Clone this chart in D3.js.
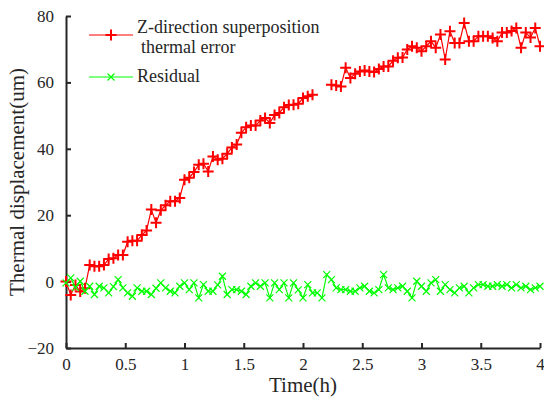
<!DOCTYPE html>
<html>
<head>
<meta charset="utf-8">
<script src="https://cdn.jsdelivr.net/npm/d3@7"></script>
<style>
  body { margin: 0; background: #fff; }
  svg { display: block; }
</style>
</head>
<body>
<svg id="chart"></svg>
<script>
// time axis (h)
const timeH = [0, 0.04, 0.08, 0.12, 0.16, 0.2, 0.24, 0.28, 0.32, 0.36, 0.4, 0.44, 0.48, 0.52, 0.56, 0.6, 0.64, 0.68, 0.72, 0.76,
  0.8, 0.84, 0.88, 0.92, 0.96, 1, 1.04, 1.08, 1.12, 1.16, 1.2, 1.24, 1.28, 1.32, 1.36, 1.4, 1.44, 1.48, 1.52, 1.56,
  1.6, 1.64, 1.68, 1.72, 1.76, 1.8, 1.84, 1.88, 1.92, 1.96, 2, 2.04, 2.08, 2.12, 2.16, 2.2, 2.24, 2.28, 2.32, 2.36,
  2.4, 2.44, 2.48, 2.52, 2.56, 2.6, 2.64, 2.68, 2.72, 2.76, 2.8, 2.84, 2.88, 2.92, 2.96, 3, 3.04, 3.08, 3.12, 3.16,
  3.2, 3.24, 3.28, 3.32, 3.36, 3.4, 3.44, 3.48, 3.52, 3.56, 3.6, 3.64, 3.68, 3.72, 3.76, 3.8, 3.84, 3.88, 3.92, 3.96, 4];

// Z-direction superposition thermal error (um), null = missing
const thermalError = [0, -4, -1, -3, -2, 5, 4.6, 4.6, 5, 6.8, 7,
  8, 8, 12, 12.3, 12.3, 14, 15.4, 21.7, 17.7, 21.5,
  23, 24.2, 24.2, 25.2, 30.7, 31.3, 33, 35.2, 35.5, 33.2,
  37.7, 36.7, 37, 38.5, 40.4, 41.3, 44.8, 46.5, 47, 47,
  48.5, 49.3, 47.8, 50.2, 50.8, 52.5, 53.2, 53.3, 53.6, 55.3,
  55.8, 56.3, null, null, null, 59.3, 59.1, 58.8, 64.4, 61.3,
  62.6, 63.3, 63.6, 63.3, 63.1, 64, 64.8, 64.8, 66.5, 67.4,
  67.5, 69.9, 70.9, 70.4, 69.4, 70.9, 72.4, 70.4, 74.4, 66.9,
  75.4, 71.9, 71.9, 77.9, 72.4, 72.4, 73.9, 73.9, 73.9, 73.4,
  72.4, 75, 75, 75.5, 76.4, 70.4, 75, 73.5, 76.4, 70.9];

// Residual (um)
const residual = [-0.4, 1.1, -1.8, 0.1, -2.9, -1.4, -3.9, -1.4, -1.9, -3.4,
  -1.5, 0.6, -1.9, -3.4, -4.4, -1.9, -2.9, -2.9, -3.9, -2.0,
  -0.4, -1.9, -2.9, -3.4, -1.4, -0.4, -2.4, -0.4, -4.9, -0.9,
  -2.9, -2.9, -1.0, 1.6, -3.9, -2.4, -2.4, -2.9, -3.9, -1.4,
  -0.4, -1.4, -0.4, -4.9, -0.4, -2.4, -0.4, -4.9, -0.4, -2.5,
  -4.9, -0.9, -3.4, -3.4, -4.9, 2.1, 0.6, -1.9, -2.4, -2.4,
  -2.9, -2.9, -1.9, -1.4, -2.9, -3.4, -2.4, 2.1, -1.9, -2.4,
  -1.9, -1.4, -2.9, -4.9, 0.1, -1.4, -2.9, -0.4, 0.6, -2.9,
  -0.9, -2.4, -3.4, -1.9, -1.4, -3.4, -1.9, -0.9, -0.9, -1.4,
  -1.4, -0.9, -1.4, -0.9, -1.9, -0.9, -1.9, -1.4, -2.4, -1.9,
  -1.4];

const xTicks = [0, 0.5, 1, 1.5, 2, 2.5, 3, 3.5, 4];
const yTicks = [-20, 0, 20, 40, 60, 80];
const seriesNames = ["Z-direction superposition", "thermal error", "Residual"];

const width = 544, height = 403;
const margin = { top: 16, right: 4, bottom: 55, left: 66 };
const innerW = width - margin.left - margin.right;
const innerH = height - margin.top - margin.bottom;
const axisColor = "#262626";
const serif = "'Liberation Serif', 'DejaVu Serif'";

const svg = d3.select("#chart").attr("width", width).attr("height", height);
const chart = svg.append("g").attr("transform", `translate(${margin.left},${margin.top})`);

const xScale = d3.scaleLinear().domain([0, 4]).range([0, innerW]);
const yScale = d3.scaleLinear().domain([-20, 80]).range([innerH, 0]);

// axes, ticks pointing inside
const xAxis = d3.axisBottom(xScale).tickValues(xTicks).tickSizeInner(-5).tickSizeOuter(0)
  .tickPadding(10).tickFormat(d3.format("~g"));
const yAxis = d3.axisLeft(yScale).tickValues(yTicks).tickSizeInner(-5).tickSizeOuter(0)
  .tickPadding(12).tickFormat(d3.format("~g"));

const xAxisG = chart.append("g").attr("transform", `translate(0,${innerH})`).call(xAxis);
const yAxisG = chart.append("g").call(yAxis);
[xAxisG, yAxisG].forEach(g => {
  g.attr("font-family", null).attr("font-size", null);
  g.select(".domain").attr("stroke", axisColor).attr("stroke-width", 2);
  g.selectAll(".tick line").attr("stroke", axisColor).attr("stroke-width", 2);
  g.selectAll(".tick text").attr("fill", axisColor)
    .style("font-family", serif).style("font-size", "17px");
});

// axis titles
svg.append("text")
  .attr("x", margin.left + innerW / 2).attr("y", 392)
  .attr("text-anchor", "middle").attr("fill", axisColor)
  .style("font-family", serif).style("font-size", "21px").text("Time(h)");
svg.append("text")
  .attr("transform", `translate(24,${margin.top + innerH / 2}) rotate(-90)`)
  .attr("text-anchor", "middle").attr("fill", axisColor)
  .style("font-family", serif).style("font-size", "21px").text("Thermal displacement(um)");

const plusPath = s => `M${-s},0H${s}M0,${-s}V${s}`;
const crossPath = s => `M${-s},${-s}L${s},${s}M${-s},${s}L${s},${-s}`;

const redData = timeH.map((t, i) => ({ t, v: thermalError[i] }));
const greenData = timeH.map((t, i) => ({ t, v: residual[i] }));

const line = d3.line()
  .defined(d => d.v !== null)
  .x(d => xScale(d.t))
  .y(d => yScale(d.v));

// thermal error series
chart.append("path").datum(redData)
  .attr("fill", "none").attr("stroke", "#ff0000").attr("stroke-width", 1.2)
  .attr("d", line);
chart.append("g").selectAll("path")
  .data(redData.filter(d => d.v !== null))
  .join("path")
  .attr("transform", d => `translate(${xScale(d.t)},${yScale(d.v)})`)
  .attr("d", plusPath(5.5))
  .attr("stroke", "#ff0000").attr("stroke-width", 2).attr("fill", "none");

// residual series
chart.append("path").datum(greenData)
  .attr("fill", "none").attr("stroke", "#00ff00").attr("stroke-width", 1.2)
  .attr("d", line);
chart.append("g").selectAll("path")
  .data(greenData)
  .join("path")
  .attr("transform", d => `translate(${xScale(d.t)},${yScale(d.v)})`)
  .attr("d", crossPath(3.5))
  .attr("stroke", "#00ff00").attr("stroke-width", 1.2).attr("fill", "none");

// legend
const legend = svg.append("g");
legend.append("line").attr("x1", 89).attr("x2", 133).attr("y1", 35).attr("y2", 35)
  .attr("stroke", "#ff0000").attr("stroke-width", 1.2);
legend.append("path").attr("transform", "translate(111,35)").attr("d", plusPath(5.5))
  .attr("stroke", "#ff0000").attr("stroke-width", 2);
legend.append("line").attr("x1", 89).attr("x2", 133).attr("y1", 77).attr("y2", 77)
  .attr("stroke", "#00ff00").attr("stroke-width", 1.2);
legend.append("path").attr("transform", "translate(111,77)").attr("d", crossPath(3.5))
  .attr("stroke", "#00ff00").attr("stroke-width", 1.2);
legend.selectAll("text")
  .data([[137, 33, seriesNames[0]], [141, 53, seriesNames[1]], [137, 82, seriesNames[2]]])
  .join("text")
  .attr("x", d => d[0]).attr("y", d => d[1]).attr("fill", axisColor)
  .style("font-family", serif).style("font-size", "18px")
  .text(d => d[2]);
</script>
</body>
</html>
